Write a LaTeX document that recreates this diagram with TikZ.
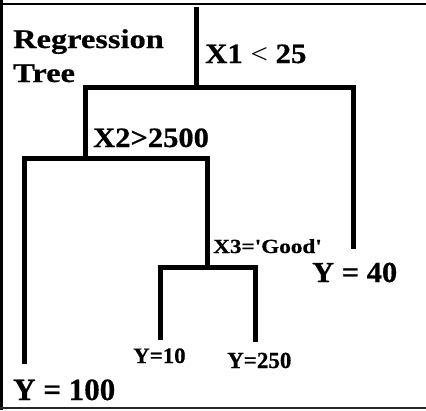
\documentclass[tikz,border=0pt]{standalone}
\usepackage{fontspec}
\setmainfont{Liberation Serif}[BoldFeatures={FakeBold=0.6}]
\begin{document}
\begin{tikzpicture}[x=1pt,y=-1pt,
  branch/.style={line width=5pt, line join=miter, line cap=rect},
  lbl/.style={anchor=base west, inner sep=0pt, font=\bfseries},
  frameline/.style={line width=2.5pt}]
\useasboundingbox (0,0) rectangle (426,410);
% frame
\draw[frameline] (0,4) -- (426,4);
\draw[frameline] (1.5,0) -- (1.5,410);
\draw[line width=1.5pt, black!85] (0,408) -- (426,408);
% coordinates
\coordinate (top) at (196.5,9);
\coordinate (n1) at (196.5,87.5);
\coordinate (n2) at (85.5,158);
\coordinate (l40) at (353.5,246);
\coordinate (l100) at (24.5,361);
\coordinate (n3) at (207.5,267.5);
\coordinate (l10) at (160.5,337);
\coordinate (l250) at (255.5,339);
% branches
\draw[branch] (top) -- (n1);
\draw[branch] (n2) |- (n1) -| (l40);
\draw[branch] (l100) |- (n2) -| (n3);
\draw[branch] (l10) |- (n3) -| (l250);
% labels
\node[lbl] (title1) at (13,48) {\fontsize{27}{27}\selectfont\scalebox{1.2}[1]{Regression}};
\node[lbl] (title2) at (13,82) {\fontsize{27}{27}\selectfont\scalebox{1.2}[1]{Tree}};
\node[lbl] (c1) at (205,63) {\fontsize{28}{28}\selectfont\scalebox{1.1}[1]{X1 {\mdseries<} 25}};
\node[lbl] (c2) at (93,147) {\fontsize{28}{28}\selectfont\scalebox{1.09}[1]{X2>2500}};
\node[lbl] (c3) at (213,253) {\fontsize{20}{20}\selectfont\scalebox{1.16}[1]{X3=\textquotesingle Good\textquotesingle}};
\node[lbl] (y40) at (312,282) {\fontsize{29}{29}\selectfont\scalebox{1.05}[1]{Y = 40}};
\node[lbl] (y100) at (13,400) {\fontsize{31}{31}\selectfont Y = 100};
\node[lbl] (y10) at (133,363) {\fontsize{22}{22}\selectfont\scalebox{1.04}[1]{Y=10}};
\node[lbl] (y250) at (227,368) {\fontsize{23}{23}\selectfont Y=250};
\end{tikzpicture}
\end{document}
